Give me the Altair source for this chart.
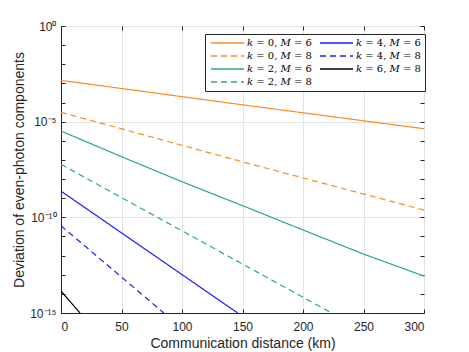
import altair as alt
import pandas as pd

# log10 of the deviation, per curve
x_k0M6 = [0, 150, 300]
e_k0M6 = [-2.84, -4.12, -5.37]
x_k0M8 = [0, 150, 300]
e_k0M8 = [-4.51, -7.10, -9.62]
x_k2M6 = [0, 50, 100, 150, 200, 250, 300]
e_k2M6 = [-5.49, -6.83, -8.14, -9.39, -10.66, -11.92, -13.07]
x_k2M8 = [0, 223.7]
e_k2M8 = [-7.23, -15.0]
x_k4M6 = [0, 146.0]
e_k4M6 = [-8.63, -15.0]
x_k4M8 = [0, 85.0]
e_k4M8 = [-10.44, -15.0]
x_k6M8 = [0, 15.7]
e_k6M8 = [-13.85, -15.0]

x_ticks = [0, 50, 100, 150, 200, 250, 300]
y_major = [1, 1e-5, 1e-10, 1e-15]
y_decades = [1, 1e-1, 1e-2, 1e-3, 1e-4, 1e-5, 1e-6, 1e-7, 1e-8, 1e-9, 1e-10,
             1e-11, 1e-12, 1e-13, 1e-14, 1e-15]

k = "\U0001D458"
M = "\U0001D440"
lab = {
    "k0M6": f"{k} = 0, {M} = 6",
    "k0M8": f"{k} = 0, {M} = 8",
    "k2M6": f"{k} = 2, {M} = 6",
    "k2M8": f"{k} = 2, {M} = 8",
    "k4M6": f"{k} = 4, {M} = 6",
    "k4M8": f"{k} = 4, {M} = 8",
    "k6M8": f"{k} = 6, {M} = 8",
}
series = {
    "k0M6": (x_k0M6, e_k0M6),
    "k0M8": (x_k0M8, e_k0M8),
    "k2M6": (x_k2M6, e_k2M6),
    "k2M8": (x_k2M8, e_k2M8),
    "k4M6": (x_k4M6, e_k4M6),
    "k4M8": (x_k4M8, e_k4M8),
    "k6M8": (x_k6M8, e_k6M8),
}
colors = {"k0M6": "#FF8A1F", "k0M8": "#FF8A1F", "k2M6": "#2BAA7E", "k2M8": "#2BAA7E",
          "k4M6": "#1A1AFF", "k4M8": "#1A1AFF", "k6M8": "#000000"}
dashes = {"k0M6": [1, 0], "k0M8": [6, 4], "k2M6": [1, 0], "k2M8": [6, 4],
          "k4M6": [1, 0], "k4M8": [6, 4], "k6M8": [1, 0]}

rows = []
for key, (xs, es) in series.items():
    for xv, ev in zip(xs, es):
        rows.append({"series": lab[key], "x": xv, "y": 10 ** ev})
df = pd.DataFrame(rows)

legend_order = ["k0M6", "k0M8", "k2M6", "k2M8", "k4M6", "k4M8", "k6M8"]
dom = [lab[s] for s in legend_order]

font = "Liberation Sans"
xscale = alt.Scale(domain=[0, 300], nice=False)
yscale = alt.Scale(type="log", domain=[1e-15, 1], nice=False)

base = alt.Chart(df)

lines = base.mark_line(strokeWidth=1.2, clip=True).encode(
    x=alt.X("x:Q", scale=xscale,
            axis=alt.Axis(title="Communication distance (km)", values=x_ticks,
                          format="d", grid=True, ticks=False, labelPadding=8, titlePadding=4)),
    y=alt.Y("y:Q", scale=yscale,
            axis=alt.Axis(title="Deviation of even-photon components",
                          values=y_major, grid=True, ticks=False, labelPadding=5,
                          titlePadding=3,
                          labelExpr="datum.value > 0.5 ? '10⁰' : datum.value > 1e-6 ? '10⁻⁵' : datum.value > 1e-11 ? '10⁻¹⁰' : '10⁻¹⁵'")),
    color=alt.Color("series:N", scale=alt.Scale(domain=dom, range=[colors[s] for s in legend_order]),
                    legend=alt.Legend(title=None, orient="none", legendX=144, legendY=8, columns=2,
                                      symbolType="M-1,0H10", symbolSize=36, symbolStrokeWidth=1.4,
                                      labelOffset=28,
                                      labelFont="DejaVu Serif", labelFontSize=10, labelColor="#000000",
                                      rowPadding=3, columnPadding=5, padding=4,
                                      strokeColor="#262626", fillColor="#ffffff")),
    strokeDash=alt.StrokeDash("series:N", scale=alt.Scale(domain=dom, range=[dashes[s] for s in legend_order])),
    order="x:Q",
)


def tick_axis(orient):
    return dict(orient=orient, offset=-4, tickSize=4, tickColor="#262626", labels=False,
                domain=False, grid=False, title=None)


ticks_a = base.mark_point(opacity=0).encode(
    x=alt.X("x:Q", scale=xscale, axis=alt.Axis(values=x_ticks, **tick_axis("bottom"))),
    y=alt.Y("y:Q", scale=yscale, axis=alt.Axis(values=y_decades, **tick_axis("left"))),
)
ticks_b = base.mark_point(opacity=0).encode(
    x=alt.X("x:Q", scale=xscale, axis=alt.Axis(values=x_ticks, **tick_axis("top"))),
    y=alt.Y("y:Q", scale=yscale, axis=alt.Axis(values=y_decades, **tick_axis("right"))),
)

chart = alt.layer(lines, ticks_a, ticks_b).resolve_axis(x="independent", y="independent").properties(
    width=363, height=287,
    padding={"left": 53, "top": 18, "right": 37, "bottom": 40},
    autosize=alt.AutoSizeParams(type="none"),
    background="white",
).configure_view(stroke="#262626", strokeWidth=1).configure_axis(
    labelFont=font, titleFont=font, labelFontSize=12, titleFontSize=14,
    labelColor="#262626", titleColor="#262626", titleFontWeight="normal",
    domainColor="#262626", gridColor="#e3e3e3", gridWidth=1,
)

chart.save("out.html", embed_options={"renderer": "svg", "actions": False})
